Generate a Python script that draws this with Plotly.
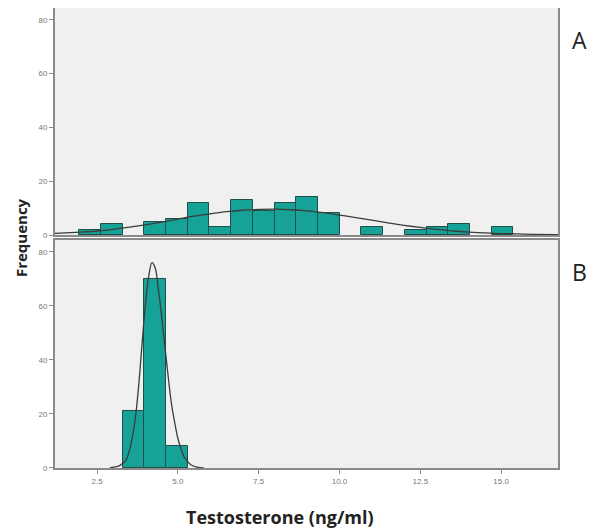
import plotly.graph_objects as go

# Histogram bins (ng/ml)
bin_start = 1.95
bin_width = 0.6715
freq_A = [2, 4, 0, 5, 6, 12, 3, 13, 9, 12, 14, 8, 0, 3, 0, 2, 3, 4, 0, 3]
freq_B = [0, 0, 21, 70, 8, 0, 0, 0, 0, 0, 0, 0, 0, 0, 0, 0, 0, 0, 0, 0]

# Fitted normal curves
curve_A_x = [1.2, 2.0, 2.5, 3.0, 3.5, 4.0, 4.5, 5.0, 5.5, 6.0, 6.5, 7.0, 7.5, 8.0, 8.5, 9.0, 9.5,
             10.0, 10.5, 11.0, 11.5, 12.0, 12.5, 13.0, 13.5, 14.0, 14.5, 15.0, 15.5, 16.0, 16.76]
curve_A_y = [0.6, 1.1, 1.5, 2.1, 2.9, 3.8, 4.8, 5.9, 7.0, 7.9, 8.7, 9.2, 9.5, 9.6, 9.4, 9.0, 8.3,
             7.4, 6.5, 5.5, 4.5, 3.6, 2.8, 2.1, 1.5, 1.1, 0.8, 0.55, 0.4, 0.25, 0.1]
curve_B_x = [2.9, 3.0, 3.2, 3.4, 3.6, 3.7, 3.8, 3.9, 4.0, 4.1, 4.2, 4.3, 4.4, 4.5, 4.6,
             4.7, 4.8, 4.9, 5.0, 5.1, 5.2, 5.4, 5.6, 5.8]
curve_B_y = [0, 0.3, 0.9, 3, 12, 20, 32, 47, 61, 71, 76, 74, 66, 56, 45,
             34, 24, 17, 11, 7, 4, 1.2, 0.3, 0]

x_ticks = [2.5, 5.0, 7.5, 10.0, 12.5, 15.0]
x_tick_labels = ["2.5", "5.0", "7.5", "10.0", "12.5", "15.0"]
y_ticks = [0, 20, 40, 60, 80]

bin_centers = [bin_start + (i + 0.5) * bin_width for i in range(len(freq_A))]
# empty bins draw nothing
plot_A = [v if v > 0 else None for v in freq_A]
plot_B = [v if v > 0 else None for v in freq_B]

bar_color = "#16a296"
edge_color = "#1f4f4b"
curve_color = "#3c3c3c"

fig = go.Figure()
fig.add_trace(go.Bar(x=bin_centers, y=plot_A, width=bin_width, marker=dict(color=bar_color,
              line=dict(color=edge_color, width=1)), xaxis="x", yaxis="y", showlegend=False))
fig.add_trace(go.Scatter(x=curve_A_x, y=curve_A_y, mode="lines", line=dict(color=curve_color, width=1.3, shape="spline"),
              xaxis="x", yaxis="y", showlegend=False))
fig.add_trace(go.Bar(x=bin_centers, y=plot_B, width=bin_width, marker=dict(color=bar_color,
              line=dict(color=edge_color, width=1)), xaxis="x2", yaxis="y2", showlegend=False))
fig.add_trace(go.Scatter(x=curve_B_x, y=curve_B_y, mode="lines", line=dict(color=curve_color, width=1.3, shape="spline"),
              xaxis="x2", yaxis="y2", showlegend=False))

axis_common = dict(showline=True, mirror=True, linecolor="#8a8a8a", linewidth=2, showgrid=False,
                   zeroline=False, tickfont=dict(size=8, color="#777777", family="Liberation Sans"))

fig.update_layout(
    width=587, height=521,
    margin=dict(l=47, r=37, t=0, b=61, autoexpand=False),
    paper_bgcolor="white", plot_bgcolor="#f0f0f0",
    bargap=0,
    xaxis=dict(domain=[0, 1], range=[1.2, 16.76], anchor="y", showticklabels=False, ticks="",
               **axis_common),
    yaxis=dict(domain=[0.5065, 1], range=[0, 84.4], anchor="x", tickvals=y_ticks,
               ticks="outside", ticklen=4, tickcolor="#8a8a8a", **axis_common),
    xaxis2=dict(domain=[0, 1], range=[1.2, 16.76], anchor="y2", tickvals=x_ticks, ticktext=x_tick_labels,
                ticks="outside", ticklen=4, tickcolor="#8a8a8a", **axis_common),
    yaxis2=dict(domain=[0, 0.4957], range=[0, 84.4], anchor="x2", tickvals=y_ticks,
                ticks="outside", ticklen=4, tickcolor="#8a8a8a", **axis_common),
    annotations=[
        dict(text="A", x=1.0437, y=0.9304, xref="paper", yref="paper", showarrow=False,
             xanchor="center", yanchor="middle",
             font=dict(size=23, color="#222222", family="Open Sans")),
        dict(text="B", x=1.0437, y=0.426, xref="paper", yref="paper", showarrow=False,
             xanchor="center", yanchor="middle",
             font=dict(size=23, color="#222222", family="Open Sans")),
        dict(text="<b>Testosterone (ng/ml)</b>", x=0.4473, y=-0.1065, xref="paper", yref="paper",
             showarrow=False, xanchor="center", yanchor="middle",
             font=dict(size=18, color="#222222", family="Open Sans")),
        dict(text="<b>Frequency</b>", x=-0.0676, y=0.502, xref="paper", yref="paper", textangle=-90,
             showarrow=False, xanchor="center", yanchor="middle",
             font=dict(size=15, color="#222222", family="Open Sans")),
    ],
)

fig.write_html("out.html")
